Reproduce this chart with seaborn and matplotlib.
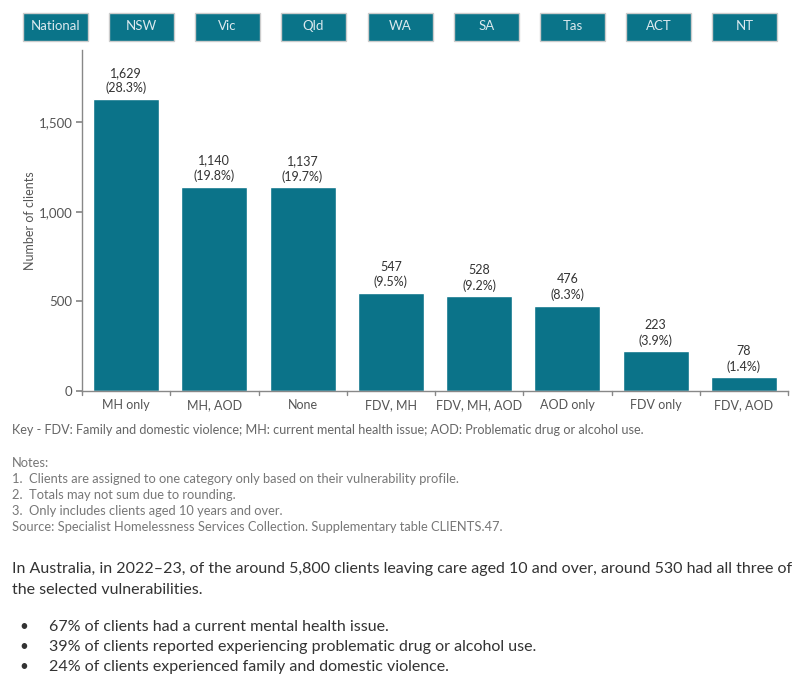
import matplotlib
matplotlib.use("Agg")
import matplotlib.pyplot as plt
import seaborn as sns
import pandas as pd
from matplotlib.patches import Rectangle

categories = ["MH only", "MH, AOD", "None", "FDV, MH", "FDV, MH, AOD", "AOD only", "FDV only", "FDV, AOD"]
clients = [1629, 1140, 1137, 547, 528, 476, 223, 78]
percents = ["28.3%", "19.8%", "19.7%", "9.5%", "9.2%", "8.3%", "3.9%", "1.4%"]
buttons = ["National", "NSW", "Vic", "Qld", "WA", "SA", "Tas", "ACT", "NT"]
yticks = [0, 500, 1000, 1500]

key_text = "Key - FDV: Family and domestic violence; MH: current mental health issue; AOD: Problematic drug or alcohol use."
notes = ["Notes:",
         "1.  Clients are assigned to one category only based on their vulnerability profile.",
         "2.  Totals may not sum due to rounding.",
         "3.  Only includes clients aged 10 years and over.",
         "Source: Specialist Homelessness Services Collection. Supplementary table CLIENTS.47."]
body = ["In Australia, in 2022\u201323, of the around 5,800 clients leaving care aged 10 and over, around 530 had all three of",
        "the selected vulnerabilities."]
bullets = ["67% of clients had a current mental health issue.",
           "39% of clients reported experiencing problematic drug or alcohol use.",
           "24% of clients experienced family and domestic violence."]

sns.set_theme(style="white")
plt.rcParams['font.family'] = ['Lato', 'DejaVu Sans']

bar_color = "#0b7389"
grey = "#555555"

df = pd.DataFrame({"cat": categories, "n": clients})

fig = plt.figure(figsize=(8, 7), dpi=100)
W, H = 800, 700
ax = fig.add_axes([82 / W, 1 - 391 / H, 706 / W, 341 / H])
sns.barplot(data=df, x="cat", y="n", color=bar_color, width=0.75, ax=ax, saturation=1)
ax.set_ylim(0, 341 / 0.1793)
ax.set_xlim(-0.5, len(categories) - 0.5)
ax.set_yticks(yticks)
ax.set_yticklabels([f"{v:,}" for v in yticks], color=grey, fontsize=9.5)
ax.set_xticks(range(len(categories)))
ax.set_xticklabels(categories, color=grey, fontsize=9)
ax.tick_params(axis="x", length=0, pad=6)
ax.tick_params(axis="y", length=4, color="#888888", left=True, pad=3)
for b in range(len(categories) + 1):
    ax.plot([b - 0.5, b - 0.5], [0, -0.012], transform=ax.get_xaxis_transform(),
            color="#888888", lw=1, clip_on=False)
for s in ["top", "right"]:
    ax.spines[s].set_visible(False)
for s in ["left", "bottom"]:
    ax.spines[s].set_color("#888888")
    ax.spines[s].set_linewidth(1)
ax.set_xlabel("")
ax.set_ylabel("Number of clients", color=grey, fontsize=9, labelpad=2)

for i, (v, p) in enumerate(zip(clients, percents)):
    ax.text(i, v + 25, f"{v:,}\n({p})", ha="center", va="bottom", color="#333333",
            fontsize=9, linespacing=1.3)

lefts = [23, 109, 195, 281, 368, 454, 540, 626, 712]
for lx, name in zip(lefts, buttons):
    r = Rectangle((lx / W, 1 - 41 / H), 65 / W, 28 / H, transform=fig.transFigure,
                  facecolor="#0a7489", edgecolor="#cccccc", lw=1)
    fig.patches.append(r)
    fig.text((lx + 32.5) / W, 1 - 26 / H, name, ha="center", va="center",
             color="#dbe9ee", fontsize=9.5)

fig.text(12 / W, 1 - 430 / H, key_text, color="#666666", fontsize=9.1, va="center")
ys = [463, 479, 495, 511, 527]
for y, t in zip(ys, notes):
    fig.text(12 / W, 1 - y / H, t, color="#777777", fontsize=9.3, va="center")

fig.text(12 / W, 1 - 569 / H, body[0], color="#333333", fontsize=11.5, va="center")
fig.text(12 / W, 1 - 590 / H, body[1], color="#333333", fontsize=11.5, va="center")
for y, t in zip([627, 647, 667], bullets):
    fig.text(19 / W, 1 - y / H, "\u2022", color="#333333", fontsize=11, va="center")
    fig.text(49 / W, 1 - y / H, t, color="#333333", fontsize=11.5, va="center")

fig.savefig("out.png", dpi=100)
